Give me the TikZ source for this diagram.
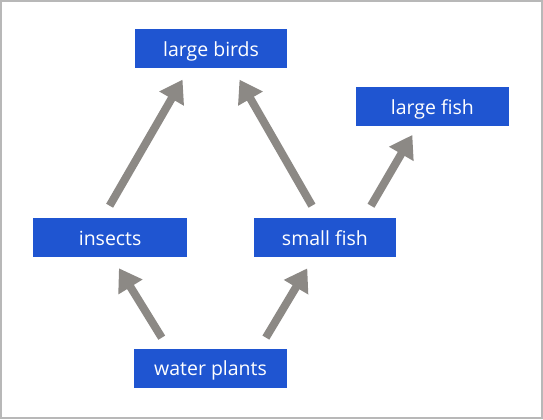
\documentclass[tikz,border=0pt]{standalone}
\usepackage{fontspec}
\setmainfont{Open Sans}
\usetikzlibrary{arrows.meta}
\definecolor{boxblue}{RGB}{31,85,209}
\definecolor{arrowgray}{RGB}{140,137,133}
\tikzset{
  species/.style={fill=boxblue,text=white,minimum height=39pt,inner sep=0pt,text height=15pt,text depth=0pt,font=\fontsize{19.5}{22}\selectfont},
  eats/.style={draw=arrowgray,line width=8pt,-{Triangle[width=27pt,length=22pt]},shorten <=14pt,shorten >=13pt}
}
\begin{document}
\begin{tikzpicture}[x=1pt,y=-1pt]
\draw[white] (0,0) rectangle (543,419);
\draw[line width=2pt,color=black!28] (1,1) rectangle (542,418);
\node[species,minimum width=152pt] (birds) at (211,48.5) {large birds};
\node[species,minimum width=153pt] (bigfish) at (432.5,106.5) {large fish};
\node[species,minimum width=154pt] (insects) at (110,237.5) {insects};
\node[species,minimum width=142pt] (smallfish) at (325,237.5) {small fish};
\node[species,minimum width=153pt] (plants) at (210.5,368.5) {water plants};
\draw[eats] ([xshift=-7.5pt]insects.north)--([xshift=-22pt]birds.south);
\draw[eats] ([xshift=-6pt]smallfish.north)--([xshift=22pt]birds.south);
\draw[eats,shorten >=10pt] ([xshift=39pt]smallfish.north)--([xshift=-15pt]bigfish.south);
\draw[eats,shorten <=13pt] ([xshift=-42pt]plants.north)--([xshift=2pt]insects.south);
\draw[eats,shorten <=13pt] ([xshift=48.7pt]plants.north)--([xshift=-11pt]smallfish.south);
\end{tikzpicture}
\end{document}
